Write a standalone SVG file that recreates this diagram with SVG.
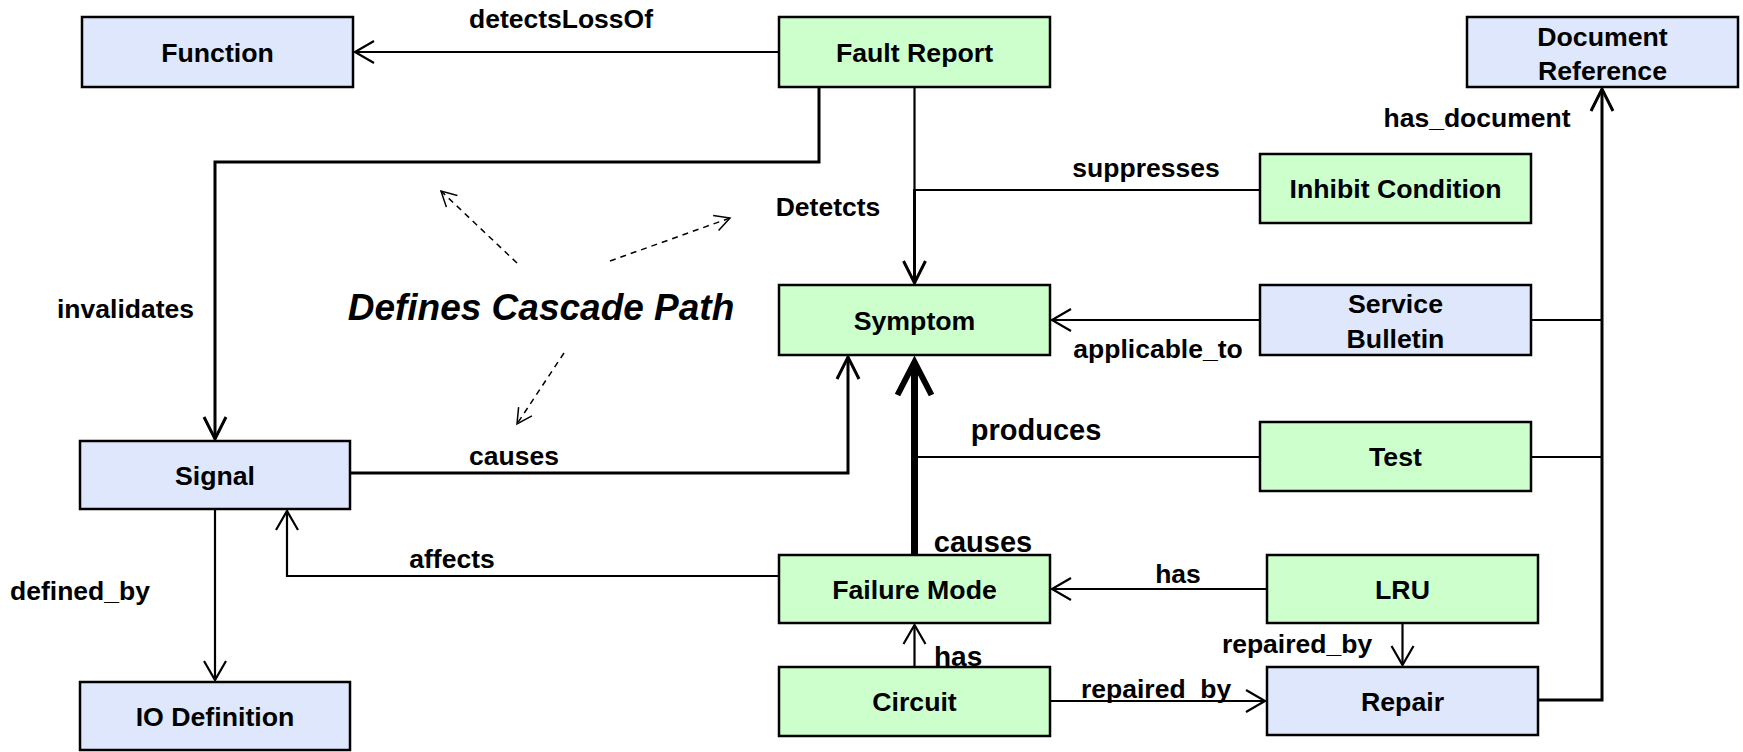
<svg xmlns="http://www.w3.org/2000/svg" width="1743" height="752" viewBox="0 0 1743 752">
<defs>
<style>
.box{stroke:#000;stroke-width:2.5}
.g{fill:#ccffcc}
.b{fill:#dee7fc}
text{font-family:"Liberation Sans",Arial,Helvetica,sans-serif;font-weight:bold;fill:#000}
.t{font-size:26.7px;text-anchor:middle}
.l{font-size:26.5px;text-anchor:middle}
.c{fill:none;stroke:#000;stroke-width:2.2}
.m{fill:none;stroke:#000;stroke-width:3}
.d{fill:none;stroke:#000;stroke-width:1.5;stroke-dasharray:6 5}
</style>
<marker id="as" markerUnits="userSpaceOnUse" markerWidth="26" markerHeight="26" refX="20" refY="12" orient="auto" overflow="visible"><path d="M1,1 L20,12 L1,23" fill="none" stroke="#000" stroke-width="2.2"/></marker>
<marker id="am" markerUnits="userSpaceOnUse" markerWidth="28" markerHeight="28" refX="22" refY="12" orient="auto" overflow="visible"><path d="M0,1 L22,12 L0,23" fill="none" stroke="#000" stroke-width="3"/></marker>
<marker id="al" markerUnits="userSpaceOnUse" markerWidth="40" markerHeight="40" refX="33" refY="17" orient="auto" overflow="visible"><path d="M0,0 L33,17 L0,34" fill="none" stroke="#000" stroke-width="6"/></marker>
<marker id="ad" markerUnits="userSpaceOnUse" markerWidth="20" markerHeight="20" refX="15" refY="8" orient="auto" overflow="visible"><path d="M0,0 L15,8 L0,16" fill="none" stroke="#000" stroke-width="1.5"/></marker>
</defs>
<rect width="1743" height="752" fill="#fff"/>

<g id="connectors">
<path class="c" d="M779,52 H355" marker-end="url(#as)"/>
<path class="m" d="M819,87 V162 H215 V439" marker-end="url(#am)"/>
<path class="c" d="M914.5,87 V191"/>
<path class="m" d="M914.5,189 V283" marker-end="url(#am)"/>
<path class="c" d="M914.5,190 H1260"/>
<path class="c" d="M1260,320 H1052" marker-end="url(#as)"/>
<path class="c" d="M1531,320 H1602"/>
<path class="c" d="M1531,457 H1602"/>
<path class="m" d="M1538,700 H1602 V89" marker-end="url(#am)"/>
<path class="c" d="M1260,457 H917"/>
<path fill="none" stroke="#000" stroke-width="7" d="M914.5,555 V362" marker-end="url(#al)"/>
<path class="m" d="M350,473 H848 V357" marker-end="url(#am)"/>
<path class="c" d="M779,576 H287 V511" marker-end="url(#as)"/>
<path class="c" d="M215,509 V680" marker-end="url(#as)"/>
<path class="c" d="M1267,589 H1052" marker-end="url(#as)"/>
<path class="c" d="M914.5,667 V625" marker-end="url(#as)"/>
<path class="c" d="M1050,701 H1265" marker-end="url(#as)"/>
<path class="c" d="M1402.5,623 V665" marker-end="url(#as)"/>
<path class="d" d="M517,263 L441,191" marker-end="url(#ad)"/>
<path class="d" d="M610,261 L730,218" marker-end="url(#ad)"/>
<path class="d" d="M564,353 L517,424" marker-end="url(#ad)"/>
</g>

<g id="edge-labels">
<text class="l" x="561" y="28">detectsLossOf</text>
<text class="l" x="125.5" y="318">invalidates</text>
<text class="l" x="828" y="216">Detetcts</text>
<text class="l" x="1146" y="177">suppresses</text>
<text class="l" x="1158" y="358">applicable_to</text>
<text class="l" x="1477" y="127">has_document</text>
<text x="1036" y="440" style="font-size:29px;text-anchor:middle">produces</text>
<text x="983" y="552" style="font-size:29px;text-anchor:middle">causes</text>
<line x1="933" y1="556" x2="1033" y2="556" stroke="#000" stroke-width="3.5"/>
<text class="l" x="514" y="465">causes</text>
<text class="l" x="452" y="568">affects</text>
<text class="l" x="80" y="600">defined_by</text>
<text class="l" x="1178" y="583">has</text>
<text x="934" y="666" style="font-size:28px">has</text>
<text x="1081" y="698" style="font-size:26.5px">repaired_by</text>
<text class="l" x="1297" y="653">repaired_by</text>
<text x="541" y="320" style="font-size:37px;font-style:italic;text-anchor:middle">Defines Cascade Path</text>
</g>

<g id="function"><rect class="box b" x="82" y="17" width="271" height="70"/><text class="t" x="217.5" y="61.5">Function</text></g>
<g id="fault-report"><rect class="box g" x="779" y="17" width="271" height="70"/><text class="t" x="914.5" y="61.5">Fault Report</text></g>
<g id="document-reference"><rect class="box b" x="1467" y="17" width="271" height="70"/><text class="t" x="1602.5" y="46">Document</text><text class="t" x="1602.5" y="80">Reference</text></g>
<g id="inhibit-condition"><rect class="box g" x="1260" y="154" width="271" height="69"/><text class="t" x="1395.5" y="198">Inhibit Condition</text></g>
<g id="symptom"><rect class="box g" x="779" y="285" width="271" height="70"/><text class="t" x="914.5" y="329.5">Symptom</text></g>
<g id="service-bulletin"><rect class="box b" x="1260" y="285" width="271" height="70"/><text class="t" x="1395.5" y="313">Service</text><text class="t" x="1395.5" y="347.5">Bulletin</text></g>
<g id="test"><rect class="box g" x="1260" y="422" width="271" height="69"/><text class="t" x="1395.5" y="466">Test</text></g>
<g id="signal"><rect class="box b" x="80" y="441" width="270" height="68"/><text class="t" x="215" y="484.5">Signal</text></g>
<g id="failure-mode"><rect class="box g" x="779" y="555" width="271" height="68"/><text class="t" x="914.5" y="598.5">Failure Mode</text></g>
<g id="lru"><rect class="box g" x="1267" y="555" width="271" height="68"/><text class="t" x="1402.5" y="598.5">LRU</text></g>
<g id="io-definition"><rect class="box b" x="80" y="682" width="270" height="68"/><text class="t" x="215" y="725.5">IO Definition</text></g>
<g id="circuit"><rect class="box g" x="779" y="667" width="271" height="69"/><text class="t" x="914.5" y="711">Circuit</text></g>
<g id="repair"><rect class="box b" x="1267" y="667" width="271" height="68"/><text class="t" x="1402.5" y="710.5">Repair</text></g>
</svg>
